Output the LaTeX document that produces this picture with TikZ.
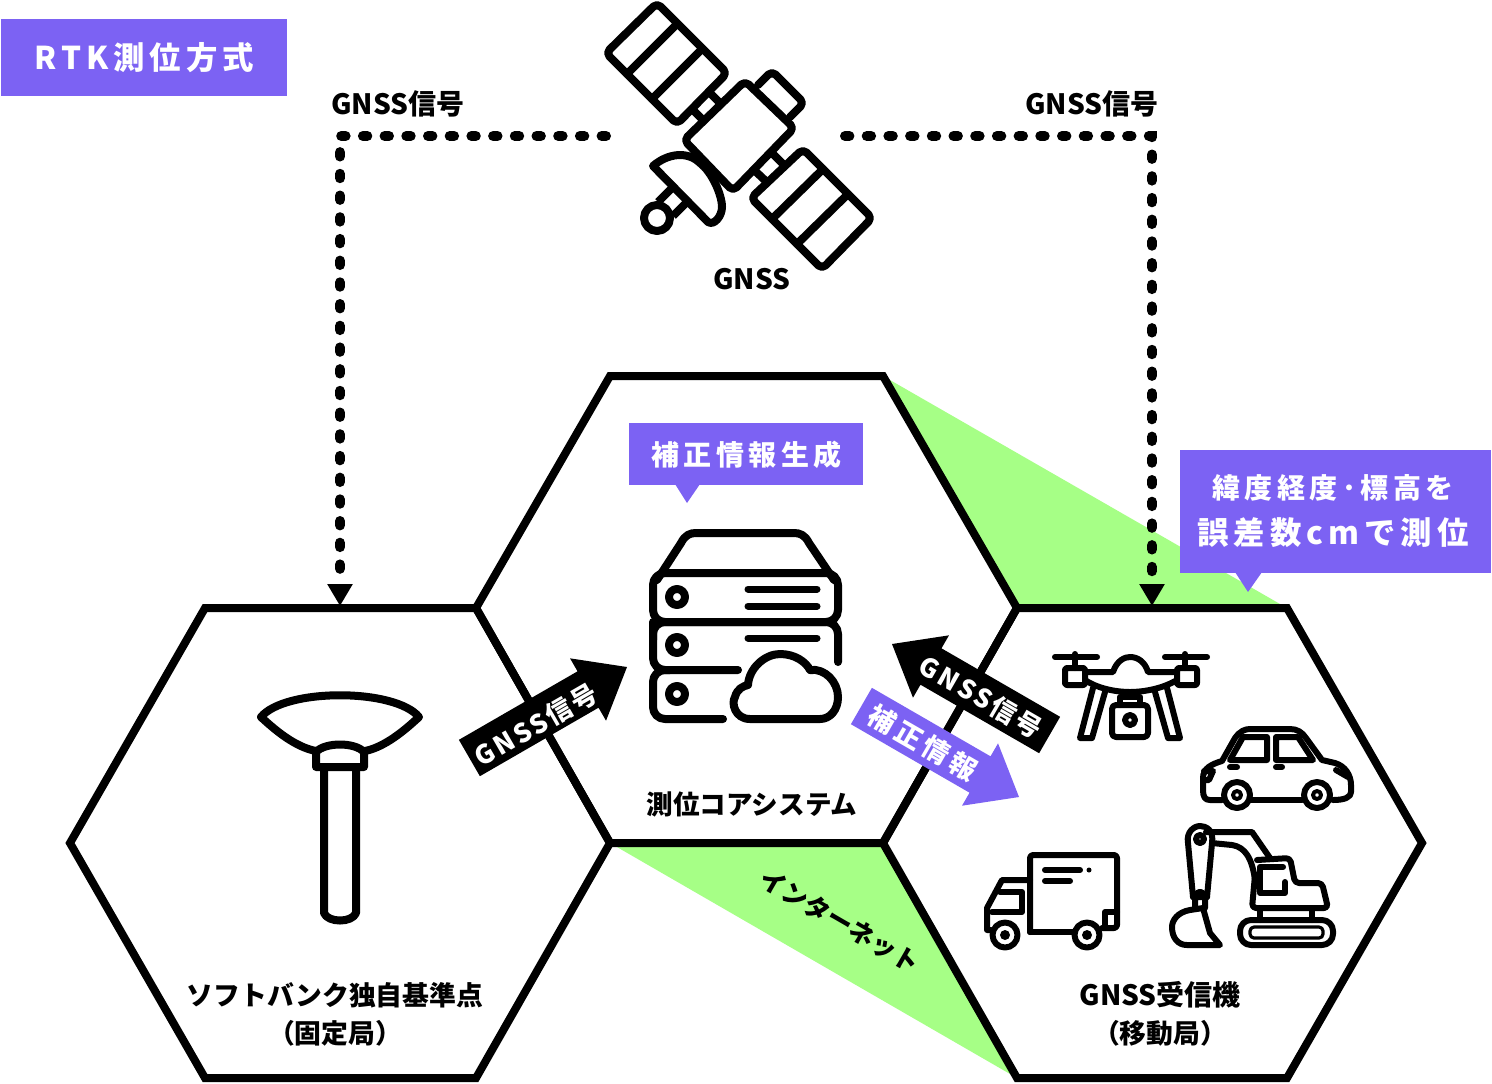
\documentclass[tikz,border=0pt]{standalone}
\usepackage{fontspec}
\setmainfont{Noto Sans CJK JP}
\newfontfamily\jpsp{Noto Sans CJK JP}[LetterSpace=10]
\newfontfamily\jpspm{Noto Sans CJK JP}[LetterSpace=16]
\newfontfamily\jpspw{Noto Sans CJK JP}[LetterSpace=16]
\usetikzlibrary{arrows.meta,calc}
\definecolor{vio}{HTML}{7C62F3}
\definecolor{grn}{HTML}{A6FF86}
\newcommand\fsz[1]{\fontsize{#1}{#1}\selectfont\bfseries}
\tikzset{
  hexa/.style={draw=black,line width=4pt,miter limit=10,fill=none},
  lab/.style={inner sep=0pt,font=\fsz{14},text=black},
  wlab/.style={inner sep=0pt,text=white},
  ico/.style={draw=black,line width=4pt,line cap=round,line join=round},
  ics/.style={draw=black,line width=3pt,line cap=round,line join=round},
  dots/.style={draw=black,line width=5pt,line cap=round,dash pattern=on 2.2pt off 8.65pt,
     -{Triangle[width=12pt,length=11pt,line cap=butt]}},
}
\newcommand\blockarrow[5]{% tipx tipy angle length colour
  \begin{scope}[shift={(#1,#2)},rotate=#3]
    \fill[#5] (0,0) -- (-45,-36) -- (-45,-21) -- (-#4,-21) -- (-#4,21) -- (-45,21) -- (-45,36) -- cycle;
  \end{scope}}
\begin{document}
\begin{tikzpicture}[x=0.5pt,y=-0.5pt]
\useasboundingbox (0,0) rectangle (1492,1083);
\fill[white] (0,0) rectangle (1492,1083);
% coordinates
\coordinate (mNW) at (610,376); \coordinate (mNE) at (883,376);
\coordinate (mE) at (1017,608); \coordinate (mSE) at (883,843);
\coordinate (mSW) at (610,843); \coordinate (mW) at (476,608);
\coordinate (rNE) at (1287,608); \coordinate (rE) at (1422,843);
\coordinate (rSE) at (1287,1078); \coordinate (rSW) at (1017,1078);
\coordinate (lNW) at (205,608); \coordinate (lW) at (70,843);
\coordinate (lSW) at (205,1078); \coordinate (lSE) at (476,1078);
% green bands
\fill[grn] (mNE) -- (rNE) -- (mE) -- cycle;
\fill[grn] (mSW) -- (mSE) -- (rSW) -- cycle;
% hexagons
\draw[hexa] (mNW) -- (mNE) -- (mE) -- (mSE) -- (mSW) -- (mW) -- cycle;
\draw[hexa] (lNW) -- (mW) -- (mSW) -- (lSE) -- (lSW) -- (lW) -- cycle;
\draw[hexa] (mE) -- (rNE) -- (rE) -- (rSE) -- (rSW) -- (mSE) -- cycle;
% title
\node[fill=vio,minimum width=143pt,minimum height=38.5pt,inner sep=0pt,anchor=north west,text=white,font=\fsz{15.7}\jpspw] (title) at (1,19) {RTK測位方式};
% dotted signals
\coordinate (satL) at (606,136); \coordinate (satR) at (845,136);
\coordinate (lTop) at (340,606); \coordinate (rTop) at (1152,606);
\draw[dots] (satL) -| (lTop);
\draw[dots] (satR) -| (rTop);
\node[lab] (sigL) at (398,104) {GNSS信号};
\node[lab] (sigR) at (1092,104) {GNSS信号};
\node[lab] (gnss) at (752,279) {GNSS};
% satellite
\begin{scope}[ico,rounded corners=2.5pt]
\draw (657,3) -- (606,53) -- (677,124) -- (727,73) -- cycle;
\draw (803,149) -- (751,198) -- (822,269) -- (872,218) -- cycle;
\draw (745,81) -- (684,140) -- (733,191) -- (794,128) -- cycle;
\draw (758,85) -- (772,71) -- (804,103) -- (790,117);
\end{scope}
\draw[ico] (627,74)--(677,24) (652,99)--(702,49) (772,219)--(823,169) (797,244)--(848,194);
\draw[ico,line cap=butt] (690,107)--(706,123) (707,90)--(723,106) (753,169)--(770,185) (770,151)--(787,168);
\draw[ico,line cap=butt] (658,202)--(672,188) (673,216)--(686,203);
\draw[ico,fill=white] (653,166) .. controls (668,153) and (688,151) .. (700,163) .. controls (712,172) and (722,195) .. (722,207) .. controls (722,216) and (714,226) .. (708,222) -- cycle;
\draw[ico] (657,218) circle[radius=13];
% callouts
\fill[vio] (675,484) -- (700,484) -- (687,503) -- cycle;
\node[fill=vio,minimum width=117pt,minimum height=31pt,inner sep=0pt,anchor=north west,text=white,font=\fsz{14}\jpspw] (hosei) at (629,423) {補正情報生成};
\fill[vio] (1235,572) -- (1262,572) -- (1248,592) -- cycle;
\fill[vio] (1180,450) rectangle (1491,573);
\node[wlab,font=\fsz{14}\jpspw] (lat1) at (1333,488) {緯度経度･標高を};
\node[wlab,font=\fsz{15.7}\jpspw] (lat2) at (1333,533) {誤差数cmで測位};
% server icon
\begin{scope}[ico]
\draw (657,580) -- (681,543) .. controls (685,535) and (690,533) .. (696,533) -- (794,533) .. controls (800,533) and (805,535) .. (809,543) -- (834,580);
\draw[rounded corners=6pt] (653,598) -- (653,573) -- (838,573) -- (838,622) -- (653,622) -- cycle;
\draw[rounded corners=6pt] (653,640) -- (653,622) -- (838,622) -- (838,662);
\draw[rounded corners=6pt] (738,670) -- (653,670) -- (653,622);
\draw[rounded corners=6pt] (723,719) -- (653,719) -- (653,670) -- (670,670);
\draw (677,597) circle[radius=8];
\draw (677,645) circle[radius=8];
\draw (677,694) circle[radius=8];
\draw[line width=3.5pt] (748,589)--(817,589) (748,606)--(817,606) (748,638)--(817,638);
\draw (750,719) .. controls (735,719) and (731,703) .. (735,697) .. controls (737,689) and (743,686) .. (748,685)
 .. controls (749,668) and (765,654) .. (780,654) .. controls (795,654) and (806,662) .. (810,670)
 .. controls (825,668) and (838,682) .. (838,697) .. controls (838,710) and (830,719) .. (820,719) -- cycle;
\end{scope}
% antenna icon
\begin{scope}[ico]
\draw (261,717) .. controls (285,688) and (395,688) .. (419,717) .. controls (405,730) and (385,747) .. (365,751);
\draw (261,717) .. controls (275,730) and (295,747) .. (316,751);
\draw (316,767) -- (316,752) .. controls (325,742) and (355,742) .. (364,752) -- (364,767) -- cycle;
\draw (324,767) -- (324,913) .. controls (328,923) and (352,923) .. (356,913) -- (356,767);
\end{scope}
% drone
\begin{scope}[ics]
\draw (1055,657)--(1097,657) (1165,657)--(1207,657) (1075,654)--(1075,668) (1185,654)--(1185,668);
\draw[rounded corners=1pt] (1065,668) rectangle (1085,685);
\draw[rounded corners=1pt] (1177,668) rectangle (1197,685);
\draw (1085,672) -- (1113,672) .. controls (1117,660) and (1125,657) .. (1130,657) .. controls (1138,657) and (1145,662) .. (1148,672) -- (1177,672);
\draw (1085,680) .. controls (1100,690) and (1120,692) .. (1130,692) .. controls (1140,692) and (1160,690) .. (1177,680);
\draw (1093,688) -- (1080,738) -- (1092,738) -- (1105,692);
\draw (1155,692) -- (1168,738) -- (1180,738) -- (1167,688);
\draw[rounded corners=2pt] (1112,705) rectangle (1148,737);
\draw (1120,697)--(1120,705) (1140,697)--(1140,705) (1120,697)--(1140,697);
\draw (1130,720) circle[radius=5];
\end{scope}
% car
\begin{scope}[ics]
\draw (1222,800) -- (1210,800) .. controls (1205,800) and (1203,797) .. (1203,790) -- (1203,778) .. controls (1203,768) and (1212,764) .. (1222,761)
 -- (1235,738) .. controls (1240,731) and (1245,729) .. (1250,729) -- (1290,729) .. controls (1297,729) and (1302,732) .. (1306,738)
 -- (1322,760) -- (1335,763) .. controls (1345,766) and (1351,775) .. (1351,785) -- (1351,792) .. controls (1351,797) and (1345,800) .. (1333,800);
\draw (1250,800) -- (1302,800);
\draw (1237,795) circle[radius=13];
\draw (1317,795) circle[radius=13];
\draw[line width=2pt] (1237,795) circle[radius=4];
\draw[line width=2pt] (1317,795) circle[radius=4];
\draw (1230,760) -- (1243,737) -- (1267,737) -- (1267,760) -- cycle;
\draw (1276,737) -- (1298,737) -- (1313,760) -- (1276,760) -- cycle;
\draw (1230,767)--(1237,767) (1276,767)--(1282,767);
\draw (1204,771) -- (1213,771) -- (1209,780) -- (1204,780);
\draw (1336,770) -- (1348,777);
\end{scope}
% truck
\begin{scope}[ics]
\draw[rounded corners=1.5pt] (1030,932) -- (1030,855) -- (1117,855) -- (1117,928) -- (1102,928);
\draw (1030,932) -- (1073,932);
\draw (1030,880) -- (1002,880) -- (987,908) -- (987,930) -- (991,930);
\draw (1000,892) -- (1022,892) -- (1022,912) -- (992,912);
\draw (1045,870) -- (1080,870) (1045,881) -- (1070,881);
\fill (1089,870) circle[radius=2.5];
\draw (1105,912) -- (1117,912) (1105,912) -- (1105,925);
\draw (1005,935) circle[radius=12.5];
\draw (1087,935) circle[radius=12.5];
\fill (1005,935) circle[radius=5];
\fill (1087,935) circle[radius=5];
\end{scope}
% excavator
\begin{scope}[ics]
\draw (1193,897) -- (1188,843) .. controls (1186,832) and (1194,826) .. (1200,826) .. controls (1206,826) and (1214,830) .. (1212,843) -- (1207,897);
\draw (1200,839) circle[radius=4];
\draw (1206,832) -- (1252,832) -- (1270,858);
\draw (1212,843) -- (1232,845) .. controls (1245,847) and (1252,858) .. (1255,880);
\draw[rounded corners=2pt] (1257,860) -- (1290,858) -- (1295,883) -- (1322,883) -- (1328,908) -- (1252,908) -- (1255,875);
\draw (1283,867) -- (1260,867) -- (1260,893) -- (1285,893) -- (1285,882);
\draw (1260,908)--(1260,920) (1312,908)--(1312,920);
\draw[rounded corners=5.5pt] (1240,920) rectangle (1333,945);
\draw[line width=1.6pt,rounded corners=2pt] (1250,927) rectangle (1323,938);
\draw (1193,897) -- (1207,897) (1195,908) -- (1195,897) .. controls (1197,890) and (1203,890) .. (1205,897) -- (1205,908);
\draw (1203,908) -- (1190,910) .. controls (1178,912) and (1172,920) .. (1172,927) .. controls (1172,938) and (1178,945) .. (1187,945) -- (1220,945) -- (1210,933) -- (1203,908);
\end{scope}
% block arrows
\blockarrow{627}{667}{30}{182}{black}
\node[wlab,rotate=30,font=\fsz{13}\jpsp] (a1) at (536,725) {GNSS信号};
\blockarrow{892}{644}{150}{182}{black}
\node[wlab,rotate=-30,font=\fsz{13}\jpsp] (a2) at (981,697) {GNSS信号};
\blockarrow{1019}{797}{-30}{182}{vio}
\node[wlab,rotate=-30,font=\fsz{13.5}\jpspm] (a3) at (923,743) {補正情報};
% labels
\node[lab,font=\fsz{13.4}] (base) at (335,995) {ソフトバンク独自基準点};
\node[lab,font=\fsz{13.4}] (base2) at (335,1033) {（固定局）};
\node[lab,font=\fsz{13.3}] (core) at (752,804) {測位コアシステム};
\node[lab,font=\fsz{14}] (rcv) at (1160,995) {GNSS受信機};
\node[lab,font=\fsz{13.4}] (rcv2) at (1160,1033) {（移動局）};
\node[lab,rotate=-30,font=\fsz{12.8}] (net) at (840,921) {インターネット};
\end{tikzpicture}
\end{document}
